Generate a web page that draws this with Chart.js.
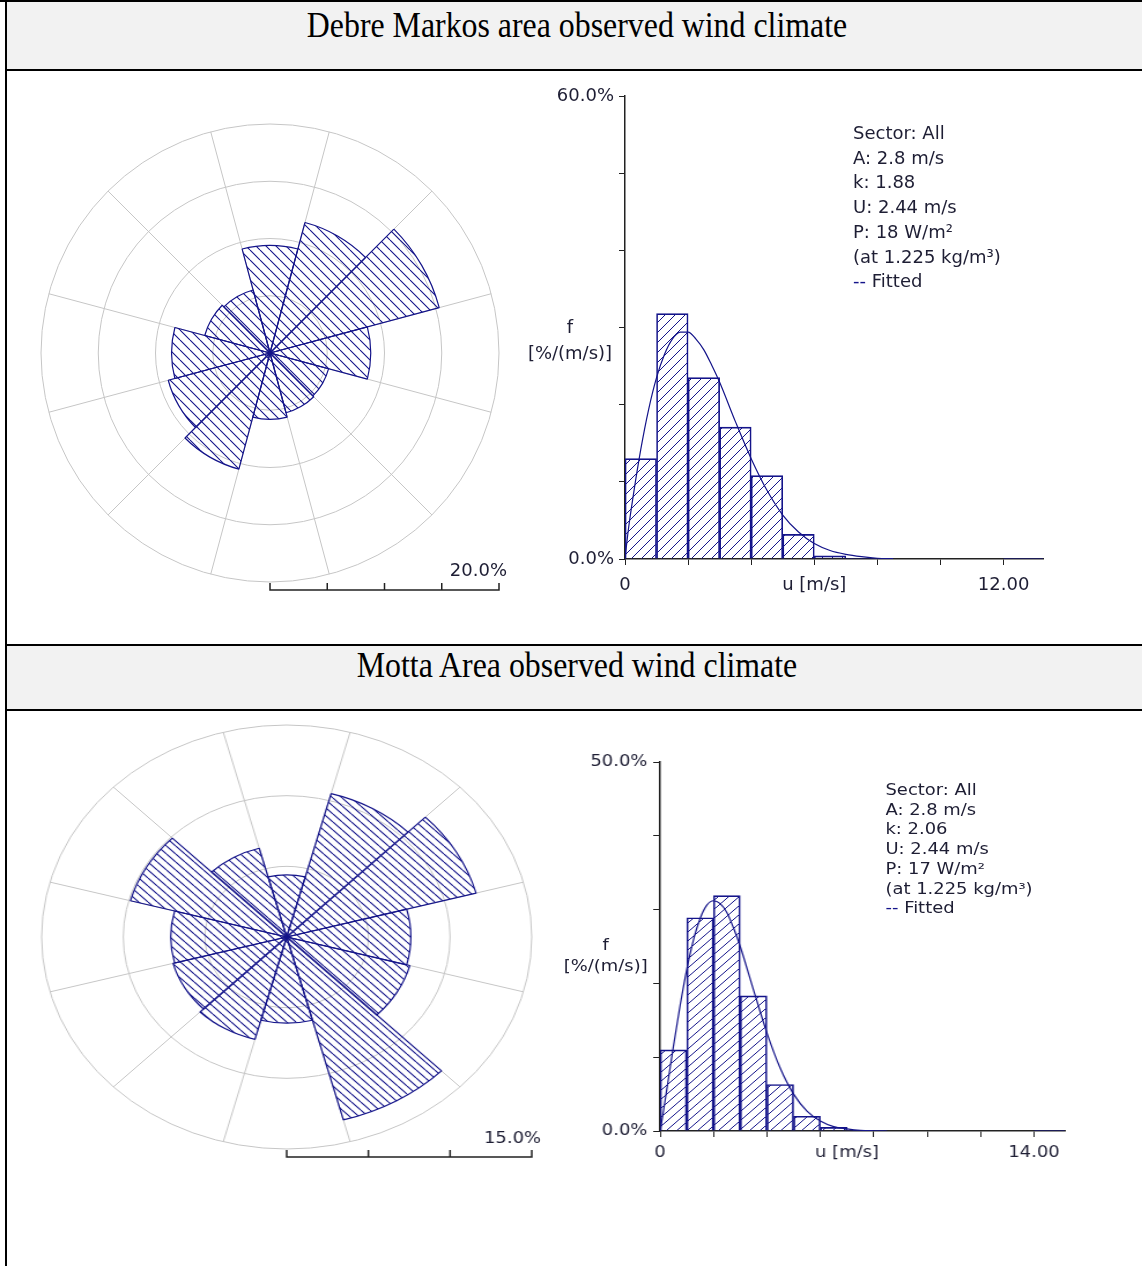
<!DOCTYPE html>
<html><head><meta charset="utf-8">
<script src="https://cdn.jsdelivr.net/npm/chart.js@4.4.1/dist/chart.umd.min.js"></script>
<style>
html,body{margin:0;padding:0;background:#fff;}
body{width:1142px;height:1266px;overflow:hidden;position:relative;}
.blk{position:absolute;background:#000;}
.hdr{position:absolute;left:7px;width:1135px;background:#f2f2f2;}
.title{position:absolute;left:6px;width:1142px;text-align:center;font-family:"Liberation Serif","Times New Roman",serif;font-size:35px;line-height:35px;color:#000;transform:scaleX(0.91);transform-origin:571px 0;white-space:nowrap;}
.note{position:absolute;font-family:"DejaVu Sans",sans-serif;color:#1e1e34;white-space:nowrap;}
canvas{position:absolute;}
#bottom{position:absolute;left:0;top:0;width:988px;height:1266px;transform:scaleX(1.156);transform-origin:0 0;}
</style></head>
<body>
<div class="blk" style="left:0;top:0;width:1142px;height:2px"></div>
<div class="blk" style="left:5px;top:0;width:2px;height:1266px"></div>
<div class="hdr" style="top:2px;height:67px"></div>
<div class="blk" style="left:5px;top:69px;width:1137px;height:2px"></div>
<div class="blk" style="left:5px;top:644px;width:1137px;height:2px"></div>
<div class="hdr" style="top:646px;height:63px"></div>
<div class="blk" style="left:5px;top:709px;width:1137px;height:2px"></div>
<div class="title" id="title1" style="top:8px"></div>
<div class="title" id="title2" style="top:648px"></div>

<canvas id="rose1" width="500" height="500" style="left:20px;top:110px;width:500px;height:500px"></canvas>
<canvas id="hist1" width="540" height="530" style="left:520px;top:80px;width:540px;height:530px"></canvas>
<div class="note" id="stats1" style="left:853px;top:121px;font-size:18px;line-height:24.7px"></div>
<div class="note" id="ylab1" style="left:520px;top:314px;width:100px;text-align:center;font-size:18px;line-height:26px"></div>

<div id="bottom">
<canvas id="rose2" width="464" height="480" style="left:16px;top:710px;width:464px;height:480px"></canvas>
<canvas id="hist2" width="460" height="431" style="left:476px;top:745px;width:460px;height:431px"></canvas>
<div class="note" id="stats2" style="left:766px;top:781px;font-size:15.5px;line-height:19.7px"></div>
<div class="note" id="ylab2" style="left:474px;top:935px;width:100px;text-align:center;font-size:15.5px;line-height:21px"></div>
</div>

<script>
// ---------- data ----------
const titles = ['Debre Markos area observed wind climate', 'Motta Area observed wind climate'];
const sectors = ['N','30°','60°','E','120°','150°','S','210°','240°','W','300°','330°'];
const roseDebre = [9.4, 11.8, 15.3, 8.8, 5.3, 5.4, 5.8, 10.5, 9.2, 8.6, 5.9, 5.7];
const roseMotta = [4.4, 10.5, 12.0, 7.6, 7.8, 13.4, 6.1, 7.5, 7.2, 7.1, 9.9, 6.5];
const roseScaleDebre = '20.0%';
const roseScaleMotta = '15.0%';

const binCenters = [0.5, 1.5, 2.5, 3.5, 4.5, 5.5, 6.5, 7.5];
const histDebre = [13.0, 31.8, 23.5, 17.1, 10.8, 3.2, 0.4, 0.1];
const histMotta = [11.0, 28.9, 31.9, 18.3, 6.3, 2.0, 0.5, 0.1];

const fitSpeedDebre = [0, 0.1, 0.25, 0.5, 0.75, 1, 1.25, 1.5, 1.75, 2, 2.25, 2.5, 2.75, 3, 3.5, 4, 4.5, 5, 5.5, 6, 6.5, 7, 7.5, 8, 8.5, 10, 12, 13.25];
const fitDebre      = [0, 3.6, 7.9, 14.2, 19.4, 23.5, 26.5, 28.5, 29.4, 29.4, 28.5, 27.1, 25.1, 22.9, 17.8, 13.0, 8.9, 5.7, 3.5, 2.0, 1.1, 0.6, 0.3, 0.1, 0.05, null, 0, 0];
const fitSpeedMotta = [0, 0.1, 0.25, 0.5, 0.75, 1, 1.25, 1.5, 1.75, 2, 2.25, 2.5, 2.75, 3, 3.5, 4, 4.5, 5, 5.5, 6, 6.5, 7, 7.5, 8, 8.5, 11, 14, 15.15];
const fitMotta      = [0, 2.1, 5.6, 11.5, 17.0, 21.9, 25.9, 28.8, 30.6, 31.2, 30.8, 29.6, 27.5, 25.0, 19.1, 13.3, 8.5, 5.0, 2.7, 1.35, 0.6, 0.3, 0.1, 0.03, 0, null, 0, 0];

const statsDebre = ['Sector: All', 'A: 2.8 m/s', 'k: 1.88', 'U: 2.44 m/s', 'P: 18 W/m²', '(at 1.225 kg/m³)', 'Fitted'];
const statsMotta = ['Sector: All', 'A: 2.8 m/s', 'k: 2.06', 'U: 2.44 m/s', 'P: 17 W/m²', '(at 1.225 kg/m³)', 'Fitted'];
const yTitle = ['f', '[%/(m/s)]'];

const xTickAtDebre = [0, 6, 12];   const xTickTextDebre = ['0', 'u [m/s]', '12.00'];
const yTickAtDebre = [0, 60];      const yTickTextDebre = ['0.0%', '60.0%'];
const xTickAtMotta = [0, 7, 14];   const xTickTextMotta = ['0', 'u [m/s]', '14.00'];
const yTickAtMotta = [0, 50];      const yTickTextMotta = ['0.0%', '50.0%'];

// ---------- styling ----------
const NAVY = '#14148a';
const TXT = '#1e1e34';
const AX = '#222222';
const GRID = '#c6c6c6';
Chart.defaults.font.family = '"DejaVu Sans", sans-serif';

document.getElementById('title1').textContent = titles[0];
document.getElementById('title2').textContent = titles[1];
function fillStats(id, lines) {
  const el = document.getElementById(id);
  lines.forEach((t, i) => {
    const d = document.createElement('div');
    if (i === lines.length - 1) {
      const s = document.createElement('span'); s.style.color = NAVY; s.textContent = '-- ';
      d.appendChild(s); d.appendChild(document.createTextNode(t));
    } else d.textContent = t;
    el.appendChild(d);
  });
}
fillStats('stats1', statsDebre); fillStats('stats2', statsMotta);
['ylab1','ylab2'].forEach(id => {
  const el = document.getElementById(id);
  yTitle.forEach(t => { const d = document.createElement('div'); d.textContent = t; el.appendChild(d); });
});

function hatch(dir, size, color, lw) {
  const c = document.createElement('canvas');
  c.width = size; c.height = size;
  const g = c.getContext('2d');
  g.strokeStyle = color; g.lineWidth = lw;
  g.beginPath();
  for (let k = -1; k <= 1; k++) {
    if (dir === '/') { g.moveTo(k * size, size); g.lineTo(k * size + size, 0); }
    else { g.moveTo(k * size, 0); g.lineTo(k * size + size, size); }
  }
  g.stroke();
  return g.createPattern(c, 'repeat');
}

const scaleBarPlugin = {
  id: 'scaleBar',
  afterDraw(chart, args, opts) {
    const s = chart.scales.r, ctx = chart.ctx;
    const R = s.drawingArea;
    const y = s.yCenter + R + opts.gap;
    ctx.save();
    ctx.strokeStyle = AX; ctx.lineWidth = 1.5;
    ctx.beginPath();
    ctx.moveTo(s.xCenter, y); ctx.lineTo(s.xCenter + R, y);
    s.ticks.forEach(t => {
      const x = s.xCenter + s.getDistanceFromCenterForValue(t.value);
      ctx.moveTo(x, y + 0.75); ctx.lineTo(x, y - 7);
    });
    ctx.stroke();
    ctx.fillStyle = TXT;
    ctx.font = opts.fontPx + 'px "DejaVu Sans"';
    ctx.textAlign = 'right'; ctx.textBaseline = 'alphabetic';
    ctx.fillText(opts.label, s.xCenter + R + 8, y - 14);
    ctx.restore();
  }
};

function makeRose(id, values, max, label, fontPx, pad, hatchSize) {
  return new Chart(document.getElementById(id), {
    type: 'polarArea',
    data: { labels: sectors, datasets: [{ data: values, backgroundColor: hatch('\\', hatchSize, NAVY, 1.1), borderColor: NAVY, borderWidth: 1.2 }] },
    options: {
      responsive: false, animation: false, events: [],
      layout: { padding: pad },
      plugins: { legend: { display: false }, tooltip: { enabled: false }, scaleBar: { label, fontPx, gap: 8 } },
      scales: { r: {
        min: 0, max, startAngle: -15,
        ticks: { display: false, stepSize: 5 },
        grid: { color: GRID, lineWidth: 1 },
        angleLines: { display: true, color: GRID, lineWidth: 1 },
        pointLabels: { display: false }
      } }
    },
    plugins: [scaleBarPlugin]
  });
}

function pick(at, text) {
  return v => { const i = at.findIndex(a => Math.abs(a - v) < 1e-6); return i >= 0 ? text[i] : ''; };
}

function makeHist(id, bars, fu, ff, c) {
  return new Chart(document.getElementById(id), {
    type: 'line',
    data: { datasets: [
      { type: 'line', data: fu.map((u, i) => ({ x: u, y: ff[i] })), borderColor: NAVY, borderWidth: 1.2, pointRadius: 0,
        cubicInterpolationMode: 'monotone', fill: false, spanGaps: false, order: 0 },
      { type: 'bar', data: binCenters.map((x, i) => ({ x, y: bars[i] })), backgroundColor: hatch('/', c.hatch, NAVY, 1),
        borderColor: NAVY, borderWidth: 1, barPercentage: 1, categoryPercentage: 1, order: 1 }
    ] },
    options: {
      responsive: false, animation: false, events: [],
      layout: { padding: c.pad },
      plugins: { legend: { display: false }, tooltip: { enabled: false } },
      scales: {
        x: { type: 'linear', min: 0, max: c.xMax, offset: false,
          ticks: { stepSize: 1, autoSkip: false, maxRotation: 0, includeBounds: false, padding: c.xPad, color: TXT, font: { size: c.fs },
            callback: pick(c.xAt, c.xText) },
          grid: { drawOnChartArea: false, drawTicks: true, tickLength: 6, offset: false,
            tickColor: ctx => (ctx.tick && Math.abs(ctx.tick.value % 2) < 1e-6) ? AX : 'rgba(0,0,0,0)' },
          border: { color: AX, width: 1.5 },
          afterFit: s => { s.height = c.xH; } },
        y: { min: 0, max: c.yMax,
          ticks: { stepSize: 10, padding: 5, color: TXT, font: { size: c.fs }, callback: pick(c.yAt, c.yText) },
          grid: { drawOnChartArea: false, drawTicks: true, tickLength: 6, tickColor: AX },
          border: { color: AX, width: 1.5 },
          afterFit: s => { s.width = c.yW; } }
      }
    }
  });
}

makeRose('rose1', roseDebre, 20, roseScaleDebre, 18, { left: 21, right: 21, top: 14, bottom: 28 }, 10);
makeRose('rose2', roseMotta, 15, roseScaleMotta, 15.5, { left: 20, right: 20, top: 15, bottom: 41 }, 8);

makeHist('hist1', histDebre, fitSpeedDebre, fitDebre, {
  xMax: 13.25, yMax: 60, xAt: xTickAtDebre, xText: xTickTextDebre, yAt: yTickAtDebre, yText: yTickTextDebre,
  fs: 18, xH: 40, yW: 105, hatch: 10, xPad: 10, pad: { left: 0, right: 17, top: 16, bottom: 11 } });
makeHist('hist2', histMotta, fitSpeedMotta, fitMotta, {
  xMax: 15.15, yMax: 50, xAt: xTickAtMotta, xText: xTickTextMotta, yAt: yTickAtMotta, yText: yTickTextMotta,
  fs: 15.5, xH: 35, yW: 95, hatch: 9, xPad: 7, pad: { left: 0, right: 15, top: 17, bottom: 10 } });
</script>
</body></html>
